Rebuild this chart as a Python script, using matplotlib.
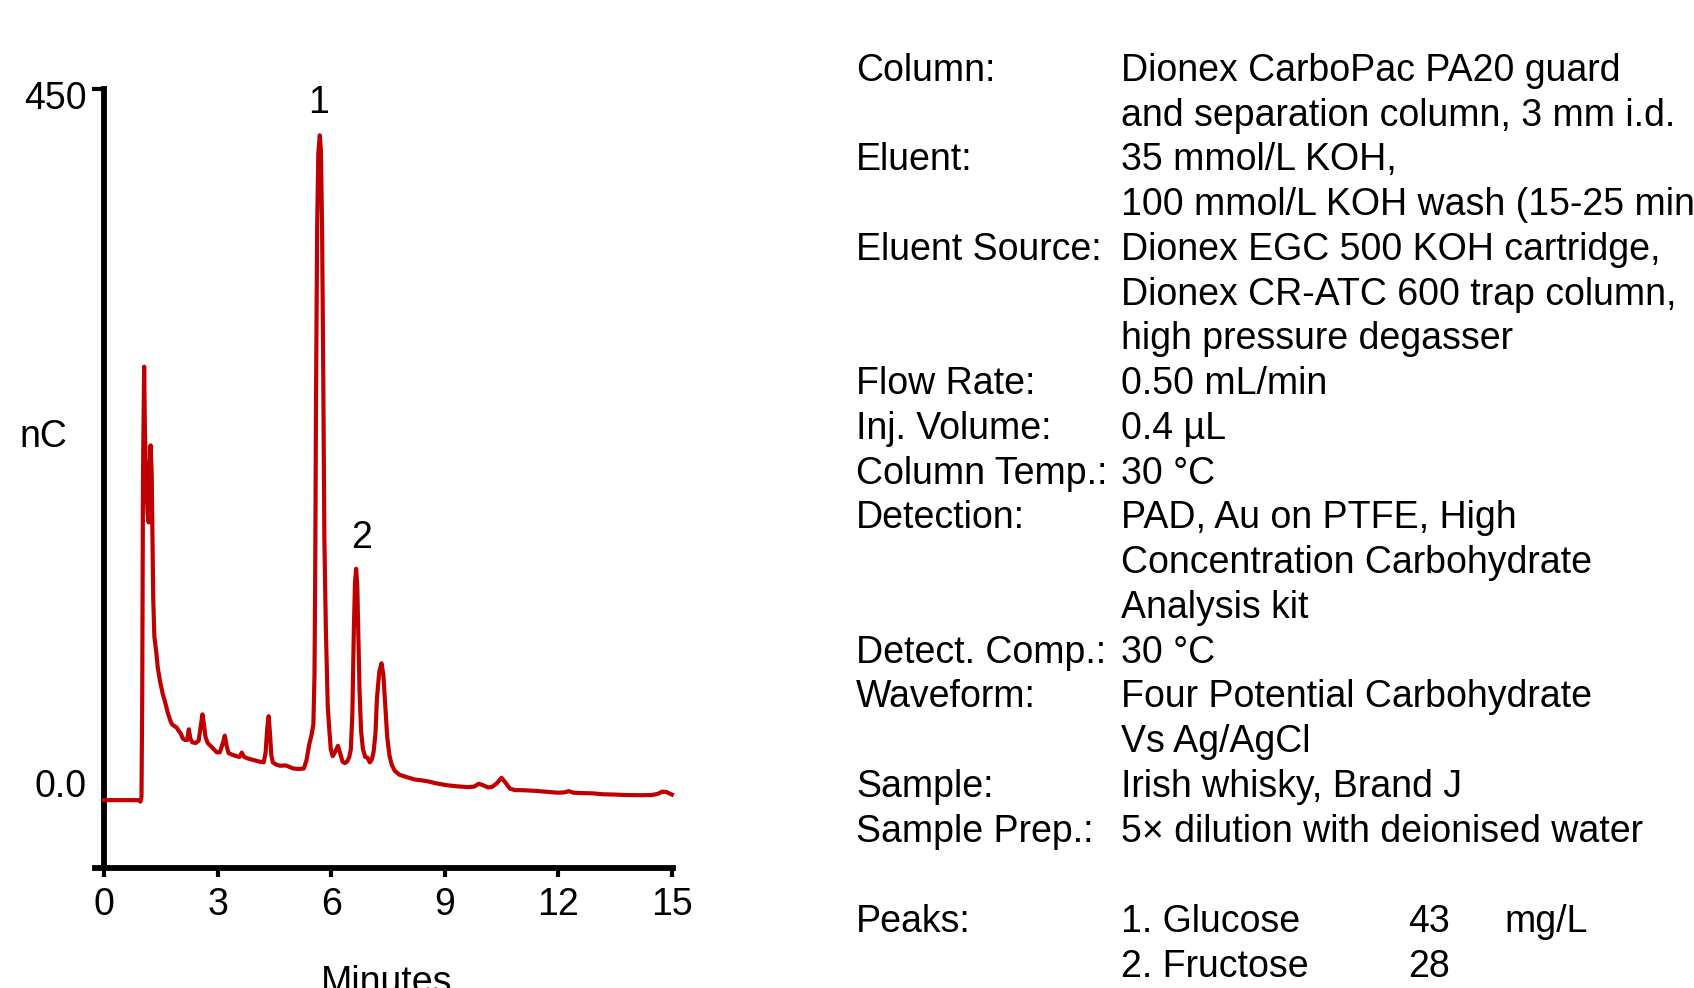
import matplotlib.pyplot as plt
import matplotlib.transforms as mtransforms

plt.rcParams['font.family'] = ['Liberation Sans', 'DejaVu Sans']

# chromatogram trace (minutes, nC)
minutes = [0.00, 0.92, 0.96, 0.99, 1.01, 1.03, 1.06, 1.08, 1.11, 1.15, 1.18, 1.20, 1.23, 1.26,
           1.28, 1.30, 1.33, 1.38, 1.42, 1.48, 1.55, 1.62, 1.68, 1.72, 1.76, 1.80, 1.86, 1.92,
           1.97, 2.03, 2.08, 2.14, 2.20, 2.24, 2.28, 2.33, 2.42, 2.50, 2.56, 2.60, 2.64, 2.68,
           2.74, 2.82, 2.90, 2.98, 3.06, 3.14, 3.19, 3.24, 3.29, 3.38, 3.50, 3.58, 3.64, 3.70,
           3.80, 3.95, 4.10, 4.22, 4.27, 4.31, 4.35, 4.39, 4.42, 4.46, 4.55, 4.65, 4.80, 4.90,
           5.00, 5.15, 5.28, 5.35, 5.42, 5.48, 5.53, 5.56, 5.58, 5.60, 5.63, 5.66, 5.70, 5.73,
           5.76, 5.79, 5.82, 5.86, 5.91, 5.95, 5.99, 6.04, 6.10, 6.18, 6.23, 6.30, 6.36, 6.42,
           6.48, 6.52, 6.56, 6.60, 6.63, 6.66, 6.69, 6.72, 6.75, 6.79, 6.84, 6.90, 6.96, 7.02,
           7.07, 7.12, 7.17, 7.21, 7.27, 7.33, 7.38, 7.43, 7.48, 7.54, 7.60, 7.68, 7.80, 7.92,
           8.05, 8.22, 8.40, 8.57, 8.75, 9.04, 9.30, 9.63, 9.78, 9.90, 10.00, 10.15, 10.25, 10.38,
           10.50, 10.60, 10.72, 10.85, 11.10, 11.40, 11.70, 11.99, 12.15, 12.28, 12.40, 12.58,
           12.90, 13.17, 13.50, 13.76, 14.20, 14.46, 14.62, 14.75, 14.85, 15.00]
signal = [-11, -11, -12, -9, 60, 200, 270, 230, 200, 175, 169, 200, 219, 200,
          160, 120, 95, 85, 75, 66, 58, 52, 46, 43, 40, 38, 37, 36,
          34, 32, 29, 28, 28, 34.9, 29, 26.5, 26, 27.5, 38, 44.6, 38, 30,
          26, 24, 22, 20, 20, 26, 30.8, 24, 19.5, 18.5, 17.5, 17, 19.8, 17,
          16, 15, 14, 13.5, 20, 35, 43.4, 30, 18, 13.5, 12, 11.3, 11.5, 10.5,
          9.5, 9.2, 9.5, 15, 25, 31, 38, 70, 140, 248, 360, 408, 420, 410,
          360, 270, 160, 100, 50, 35, 22, 17.5, 20, 24.2, 20, 14, 13, 14,
          17, 22, 45, 100, 130, 139, 128, 95, 60, 34, 22, 17, 16.5, 13.5,
          15, 20, 32, 55, 72, 77.7, 70, 50, 30, 18, 12, 8, 5.5, 4.5,
          3.5, 2.3, 1.8, 1.1, 0, -1.3, -2, -2.6, -2.2, -0.4, -1.2, -2.8, -2.5, 0,
          3.5, 0.5, -3.5, -4.5, -4.6, -5.0, -5.6, -6.2, -6.0, -5.2, -6.2, -6.4,
          -6.6, -7.2, -7.4, -7.7, -7.8, -7.7, -7.0, -5.5, -5.7, -7.4]

peak_ids = ['1', '2']
peak_label_pos = [(5.67, 441), (6.81, 159)]

x_ticks = [0, 3, 6, 9, 12, 15]
y_ticks = [0, 450]
y_tick_labels = ['0.0', '450']

cond_labels = ['Column:', '', 'Eluent:', '', 'Eluent Source:', '', '', 'Flow Rate:',
               'Inj. Volume:', 'Column Temp.:', 'Detection:', '', '', 'Detect. Comp.:',
               'Waveform:', '', 'Sample:', 'Sample Prep.:']
cond_values = ['Dionex CarboPac PA20 guard', 'and separation column, 3 mm i.d.',
               '35 mmol/L KOH,', '100 mmol/L KOH wash (15-25 min)',
               'Dionex EGC 500 KOH cartridge,', 'Dionex CR-ATC 600 trap column,',
               'high pressure degasser', '0.50 mL/min', '0.4 µL', '30 °C',
               'PAD, Au on PTFE, High', 'Concentration Carbohydrate', 'Analysis kit',
               '30 °C', 'Four Potential Carbohydrate', 'Vs Ag/AgCl', 'Irish whisky, Brand J',
               '5× dilution with deionised water']
peak_names = ['1. Glucose', '2. Fructose']
peak_conc = ['43', '28']
peak_unit = ['mg/L', '']

FS = 27
W, H = 1694, 988
fig = plt.figure(figsize=(W / 100, H / 100), dpi=100)
ax = fig.add_axes([95 / W, (H - 868) / H, (673 - 95) / W, (868 - 89) / H])

red = '#c00000'
ax.plot(minutes, signal, color=red, lw=3.0, clip_on=False, zorder=3)

ax.set_xlim(-0.238, 15.03)
ax.set_ylim(-55, 450)
for s in ['top', 'right']:
    ax.spines[s].set_visible(False)
ax.spines['left'].set_position(('data', 0))
ax.spines['left'].set_linewidth(4.2)
ax.spines['bottom'].set_linewidth(4.2)

ax.set_xticks(x_ticks)
ax.set_yticks(y_ticks)
ax.set_yticklabels(y_tick_labels)
ax.tick_params(axis='x', length=6.5, width=3, labelsize=FS, pad=7)
ax.tick_params(axis='y', length=8.5, width=3, labelsize=FS, pad=4)
ax.yaxis.get_major_ticks()[0].tick1line.set_visible(False)
# the top label sits a little below its tick in the reference
top_lab = ax.get_yticklabels()[1]
top_lab.set_transform(top_lab.get_transform() +
                      mtransforms.ScaledTranslation(0, -6 / 100, fig.dpi_scale_trans))

for pid, (px, py) in zip(peak_ids, peak_label_pos):
    ax.text(px, py, pid, fontsize=FS, ha='center', va='center')

fig.text(43 / W, (H - 437) / H, 'nC', fontsize=FS, ha='center', va='center')
fig.text(387 / W, (H - 993) / H, 'Minutes', fontsize=FS, ha='center', va='baseline')

# conditions table on the right
lab_x = 856 / W
val_x = 1121 / W
row_h = 44.74
for i, (lab, val) in enumerate(zip(cond_labels, cond_values)):
    yb = (H - (81 + row_h * i)) / H
    if lab:
        fig.text(lab_x, yb, lab, fontsize=FS, va='baseline')
    fig.text(val_x, yb, val, fontsize=FS, va='baseline')

for j, (nm, cc, un) in enumerate(zip(peak_names, peak_conc, peak_unit)):
    yb = (H - (82 + row_h * (19 + j))) / H
    if j == 0:
        fig.text(lab_x, yb, 'Peaks:', fontsize=FS, va='baseline')
    fig.text(val_x, yb, nm, fontsize=FS, va='baseline')
    fig.text(1408 / W, yb, cc, fontsize=FS, va='baseline')
    if un:
        fig.text(1504 / W, yb, un, fontsize=FS, va='baseline')

fig.savefig('out.png', dpi=100)
